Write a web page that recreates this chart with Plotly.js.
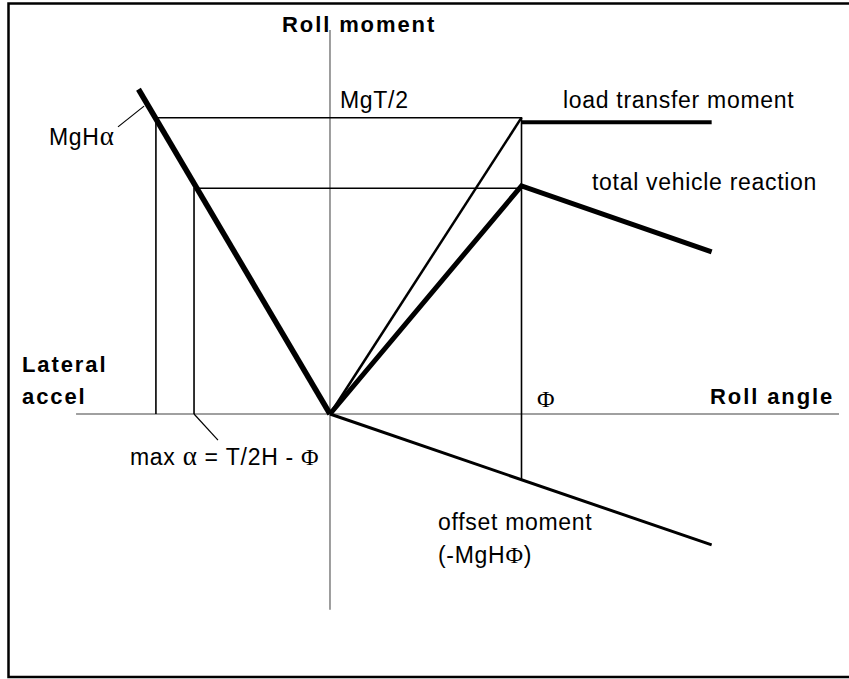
<!DOCTYPE html>
<html>
<head>
<meta charset="utf-8">
<script src="https://cdn.plot.ly/plotly-3.0.1.min.js"></script>
<style>
  html, body { margin: 0; padding: 0; background: #fff; }
  #chart { width: 849px; height: 679px; }
</style>
</head>
<body>
<div id="chart"></div>
<script>
// roll angle on x (1 = phi), roll moment on y (1 = MgT/2)
var rollAxisX = [-1.326, 2.658];
var rollAxisY = [0, 0];
var momentAxisX = [0, 0];
var momentAxisY = [1.296, -0.661];

var guideHiX = [-0.909, -0.909, 1, 1];
var guideHiY = [0, 1, 1, -0.222];
var guideLoX = [-0.71, -0.71, 1];
var guideLoY = [0, 0.762, 0.762];

var leaderAlphaX = [-0.971, -1.107];
var leaderAlphaY = [1.039, 0.969];
var leaderMaxX = [-0.71, -0.585];
var leaderMaxY = [0, -0.088];

var lateralX = [-1.0, 0];
var lateralY = [1.096, 0];
var ltRiseX = [0, 1];
var ltRiseY = [0, 1];
var ltFlatX = [1, 1.993];
var ltFlatY = [0.985, 0.985];
var totalX = [0, 1, 1.993];
var totalY = [0, 0.77, 0.547];
var offsetX = [0, 1.993];
var offsetY = [0, -0.442];

function line (x, y, w, c) {
  return {
    x: x, y: y, type: 'scatter', mode: 'lines',
    line: {color: c || '#000', width: w},
    hoverinfo: 'skip', showlegend: false
  };
}

var data = [
  line(rollAxisX, rollAxisY, 1.5, '#808080'),
  line(momentAxisX, momentAxisY, 1.3, '#6a6a6a'),
  line(guideHiX, guideHiY, 1.6),
  line(guideLoX, guideLoY, 1.6),
  line(leaderAlphaX, leaderAlphaY, 1.2),
  line(leaderMaxX, leaderMaxY, 1.2),
  line(ltRiseX, ltRiseY, 2.5),
  line(ltFlatX, ltFlatY, 4),
  line(offsetX, offsetY, 3),
  line(totalX, totalY, 5),
  line(lateralX, lateralY, 5.5)
];

var W = 849, H = 679;
var sans = 'Liberation Sans, Arial, sans-serif';
// symbol-font greek letters, alpha drawn a bit larger like in the original
var alpha = '<span style="font-family:Liberation Serif;font-size:27px">α</span>';
var phi = '<span style="font-family:Liberation Serif;font-size:24px">Φ</span>';

// label, left pixel, middle pixel, bold
function label (txt, px, py, bold, size) {
  var sp = bold ? '1.9px' : '0.7px';
  return {
    xref: 'paper', yref: 'paper',
    x: px / W, y: 1 - py / H,
    xanchor: 'left', yanchor: 'middle',
    text: '<span style="letter-spacing:' + sp + '">' + (bold ? '<b>' + txt + '</b>' : txt) + '</span>',
    showarrow: false, borderpad: 0, borderwidth: 0,
    font: {family: sans, size: size || (bold ? 22 : 23), color: '#000'}
  };
}

var annotations = [
  label('Roll moment', 282, 25, true),
  label('Lateral', 22, 364, true),
  label('accel', 22, 396, true),
  label('Roll angle', 710, 396, true),
  label('MgT/2', 340, 100),
  label('MgH' + alpha, 49, 136),
  label('load transfer moment', 563, 100),
  label('total vehicle reaction', 592, 182),
  label(phi, 537, 399),
  label('max ' + alpha + ' = T/2H - ' + phi, 130, 456),
  label('offset moment', 438, 522),
  label('(-MgH' + phi + ')', 438, 555)
];

var layout = {
  width: W, height: H,
  margin: {l: 0, r: 0, t: 0, b: 0},
  paper_bgcolor: '#fff', plot_bgcolor: '#fff',
  xaxis: {range: [-1.7232, 2.7102], visible: false, fixedrange: true},
  yaxis: {range: [-0.8944, 1.3972], visible: false, fixedrange: true},
  showlegend: false,
  annotations: annotations,
  shapes: [{
    type: 'rect', xref: 'paper', yref: 'paper',
    x0: 8.5 / W, x1: 1.02, y0: 1 - 677 / H, y1: 1 - 3.5 / H,
    line: {color: '#000', width: 2.5}
  }]
};

Plotly.newPlot('chart', data, layout, {displayModeBar: false, staticPlot: true});
</script>
</body>
</html>
